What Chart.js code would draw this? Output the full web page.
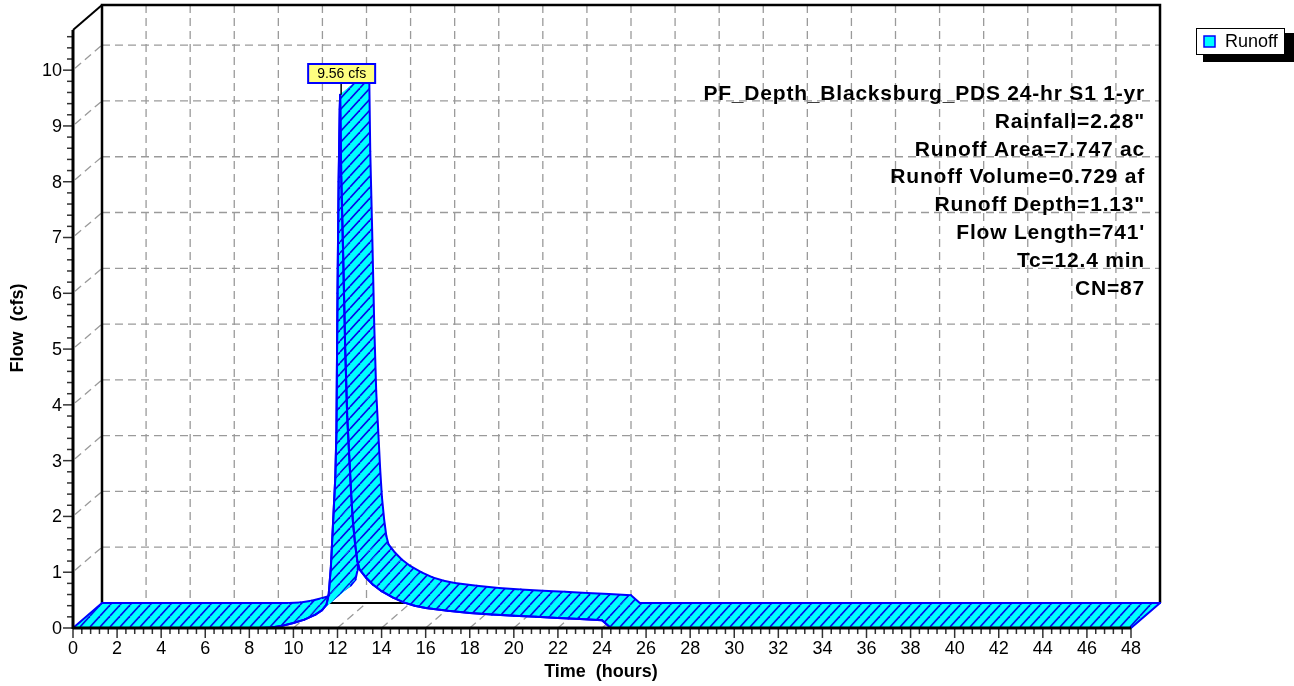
<!DOCTYPE html>
<html><head><meta charset="utf-8">
<script src="https://cdn.jsdelivr.net/npm/chart.js@4.4.1/dist/chart.umd.min.js"></script>
<style>html,body{margin:0;padding:0;background:#fff}#wrap{width:1294px;height:686px}</style>
</head><body><div id="wrap"><canvas id="c" width="1294" height="686"></canvas></div>
<script>
// ---- data ----
const hours = [0, 8.5, 9.0, 9.5, 10.0, 10.5, 11.0, 11.3, 11.5, 11.6, 11.7, 11.8, 11.9, 11.95, 12.0, 12.05, 12.1, 12.12,
  12.17, 12.25, 12.35, 12.44, 12.53, 12.62, 12.7, 12.8, 12.9, 13.0, 13.3, 13.6, 14.0, 14.5, 15.0, 15.5, 16, 17, 18, 19,
  20, 21, 22, 23, 24, 24.4, 48];
const flow = [0, 0, 0.01, 0.04, 0.09, 0.15, 0.24, 0.32, 0.42, 0.6, 1.1, 1.9, 2.7, 3.5, 6.0, 8.0, 9.3, 9.56,
  8.1, 6.8, 5.0, 3.8, 3.1, 2.4, 1.9, 1.5, 1.2, 1.05, 0.9, 0.78, 0.66, 0.55, 0.46, 0.4, 0.36, 0.31, 0.27, 0.24,
  0.22, 0.2, 0.18, 0.16, 0.14, 0, 0];
const seriesName = 'Runoff';
const xTickLabels = [0,2,4,6,8,10,12,14,16,18,20,22,24,26,28,30,32,34,36,38,40,42,44,46,48];
const yTickLabels = [0,1,2,3,4,5,6,7,8,9,10];
const xTitle = 'Time  (hours)';
const yTitle = 'Flow  (cfs)';
const flowUnit = 'cfs';
const infoLines = [
  'PF_Depth_Blacksburg_PDS 24-hr S1 1-yr',
  'Rainfall=2.28"',
  'Runoff Area=7.747 ac',
  'Runoff Volume=0.729 af',
  'Runoff Depth=1.13"',
  "Flow Length=741'",
  'Tc=12.4 min',
  'CN=87'
];
const X_MAX = 48, Y_MAX = 10.72;

// ---- drawing ----
const DX = 29, DY = -25;
const CYAN = '#00ffff', BLUE = '#0000ff', GRID = '#9a9a9a';
let hatch = null;
function getHatch(ctx){
  if (hatch) return hatch;
  const c = document.createElement('canvas'); c.width = 10; c.height = 11;
  const g = c.getContext('2d');
  g.fillStyle = CYAN; g.fillRect(0,0,10,11);
  g.strokeStyle = '#0808e8'; g.lineWidth = 1.6;
  for (let k=-1;k<=1;k++){ g.beginPath(); g.moveTo(k*10, 11); g.lineTo(k*10+10, 0); g.stroke(); }
  hatch = ctx.createPattern(c,'repeat');
  return hatch;
}
function line(ctx,x1,y1,x2,y2){ ctx.beginPath(); ctx.moveTo(x1,y1); ctx.lineTo(x2,y2); ctx.stroke(); }

const plugin3d = {
  id: 'hydro3d',
  beforeDatasetsDraw(chart){
    const ctx = chart.ctx, xs = chart.scales.x, ys = chart.scales.y;
    const X = v => xs.getPixelForValue(v), Y = v => ys.getPixelForValue(v);
    const L = X(0), R = X(X_MAX), B = Y(0), T = Y(Y_MAX);
    ctx.save();
    // grid on back wall
    ctx.strokeStyle = GRID; ctx.lineWidth = 1.3; ctx.setLineDash([8,5]);
    for (const v of yTickLabels){ if (v===0) continue;
      line(ctx, L+DX, Y(v)+DY, R+DX, Y(v)+DY);
      line(ctx, L+2, Y(v)-2, L+DX, Y(v)+DY);
    }
    for (const h of xTickLabels){ if (h===0 || h===X_MAX) continue;
      line(ctx, X(h)+DX, T+DY, X(h)+DX, B+DY);
      line(ctx, X(h), B, X(h)+DX, B+DY);
    }
    ctx.setLineDash([]);
    // back wall frame
    ctx.strokeStyle = '#000'; ctx.lineWidth = 2.5;
    ctx.beginPath(); ctx.moveTo(L+DX, B+DY); ctx.lineTo(L+DX, T+DY); ctx.lineTo(R+DX, T+DY); ctx.lineTo(R+DX, B+DY); ctx.stroke();
    ctx.lineWidth = 2;
    line(ctx, L+DX, B+DY, R+DX, B+DY);
    line(ctx, L, T, L+DX, T+DY);
    // ribbon
    const pts = chart.getDatasetMeta(0).data;
    ctx.lineJoin = 'round'; ctx.lineCap = 'round';
    const pat = getHatch(ctx);
    for (let i=0;i<pts.length-1;i++){
      const p = pts[i], q = pts[i+1];
      ctx.beginPath();
      ctx.moveTo(p.x,p.y); ctx.lineTo(q.x,q.y); ctx.lineTo(q.x+DX,q.y+DY); ctx.lineTo(p.x+DX,p.y+DY); ctx.closePath();
      ctx.fillStyle = CYAN; ctx.fill();
      ctx.fillStyle = pat; ctx.fill();
      ctx.strokeStyle = BLUE; ctx.lineWidth = 2;
      line(ctx, p.x, p.y, q.x, q.y);
      line(ctx, p.x+DX, p.y+DY, q.x+DX, q.y+DY);
    }
    const f = pts[0], l = pts[pts.length-1];
    line(ctx, f.x, f.y, f.x+DX, f.y+DY);
    line(ctx, l.x, l.y, l.x+DX, l.y+DY);
    ctx.restore();
  },
  afterDatasetsDraw(chart){
    const ctx = chart.ctx, xs = chart.scales.x, ys = chart.scales.y;
    const X = v => xs.getPixelForValue(v), Y = v => ys.getPixelForValue(v);
    const L = X(0), R = X(X_MAX), B = Y(0), T = Y(Y_MAX);
    ctx.save();
    // ticks
    ctx.strokeStyle = '#333'; ctx.lineWidth = 1.5;
    for (let k=0; k*0.2 <= Y_MAX+1e-9; k++){
      const v = k*0.2, y = Y(v), major = (k%5===0);
      line(ctx, L-(major?10:6), y, L, y);
    }
    for (let k=0; k*0.4 <= X_MAX+1e-9; k++){
      const h = k*0.4, x = X(h), major = (k%5===0);
      line(ctx, x, B, x, B+(major?10:6));
    }
    // axes
    ctx.strokeStyle = '#000'; ctx.lineWidth = 3;
    line(ctx, L, B+1, L, T);
    line(ctx, L, B, R, B);
    // tick labels
    ctx.fillStyle = '#000'; ctx.font = '18px "Liberation Sans", Arial, sans-serif';
    ctx.textAlign = 'right'; ctx.textBaseline = 'middle';
    for (const v of yTickLabels) ctx.fillText(String(v), L-11, Y(v)+1);
    ctx.textAlign = 'center';
    for (const h of xTickLabels) ctx.fillText(String(h), X(h), B+21);
    // titles
    ctx.font = 'bold 18px "Liberation Sans", Arial, sans-serif';
    ctx.fillText(xTitle, (L+R)/2 - 1, 672);
    ctx.save(); ctx.translate(18, 328); ctx.rotate(-Math.PI/2); ctx.fillText(yTitle, 0, 0); ctx.restore();
    // info block
    ctx.font = 'bold 21px "Liberation Sans", Arial, sans-serif';
    ctx.textAlign = 'right';
    try { ctx.letterSpacing = '0.8px'; } catch(e){}
    infoLines.forEach((s,i)=> ctx.fillText(s, 1145, 94 + i*27.9));
    try { ctx.letterSpacing = '0px'; } catch(e){}
    // peak label
    let pi = 0; flow.forEach((v,i)=>{ if (v>flow[pi]) pi=i; });
    const pp = chart.getDatasetMeta(0).data[pi];
    const txt = flow[pi].toFixed(2) + ' ' + flowUnit;
    ctx.font = '14px "Liberation Sans", Arial, sans-serif';
    const bw = 67, bh = 19, bx = pp.x + 1.5 - bw/2, by = 64;
    ctx.strokeStyle = '#000'; ctx.lineWidth = 1.5;
    line(ctx, pp.x+1, by+bh, pp.x+1, pp.y);
    ctx.fillStyle = '#ffff80'; ctx.fillRect(bx, by, bw, bh);
    ctx.strokeStyle = BLUE; ctx.lineWidth = 2; ctx.strokeRect(bx, by, bw, bh);
    ctx.fillStyle = '#000'; ctx.textAlign = 'center'; ctx.fillText(txt, bx+bw/2, by+bh/2+1);
    // legend
    ctx.fillStyle = '#000'; ctx.fillRect(1203, 33, 92, 29);
    ctx.fillStyle = '#fff'; ctx.fillRect(1196, 28, 89, 27);
    ctx.strokeStyle = '#000'; ctx.lineWidth = 1; ctx.strokeRect(1196.5, 28.5, 88, 26);
    ctx.fillStyle = CYAN; ctx.fillRect(1204, 36, 11, 11);
    ctx.strokeStyle = BLUE; ctx.lineWidth = 1.5; ctx.strokeRect(1204, 36, 11, 11);
    ctx.fillStyle = '#000'; ctx.font = '18px "Liberation Sans", Arial, sans-serif';
    ctx.textAlign = 'left'; ctx.fillText(seriesName, 1225, 42);
    ctx.restore();
  }
};

new Chart(document.getElementById('c').getContext('2d'), {
  type: 'line',
  data: { datasets: [{
    label: seriesName,
    data: hours.map((h,i)=>({x:h, y:flow[i]})),
    borderColor: BLUE, borderWidth: 2, pointRadius: 0, fill: false, tension: 0, clip: false
  }]},
  options: {
    responsive: false, animation: false,
    layout: { padding: { left: 73, right: 163, top: 30, bottom: 58 } },
    scales: {
      x: { type: 'linear', min: 0, max: X_MAX, display: false },
      y: { type: 'linear', min: 0, max: Y_MAX, display: false }
    },
    plugins: { legend: { display: false }, tooltip: { enabled: false } }
  },
  plugins: [plugin3d]
});
</script></body></html>
